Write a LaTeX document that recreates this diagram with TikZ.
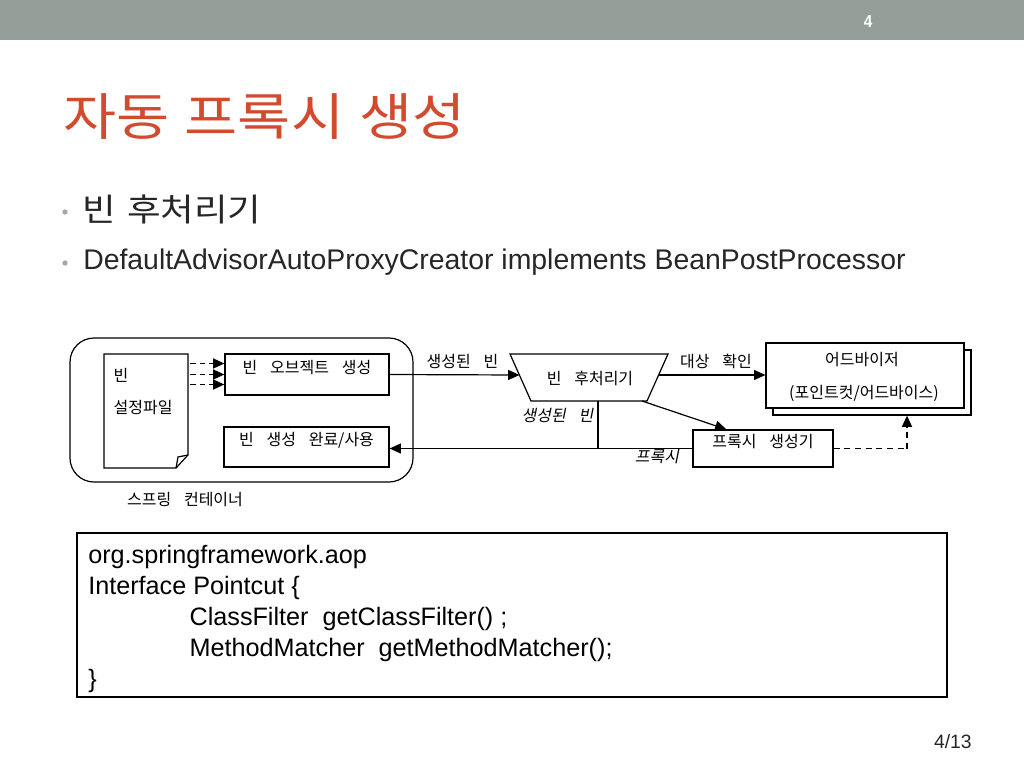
\documentclass[tikz,border=0pt]{standalone}
\usepackage{fontspec}
\setmainfont{Liberation Sans}
\newfontfamily\kr{Noto Sans CJK KR}
\newfontfamily\krwide[FakeStretch=1.14]{Noto Sans CJK KR}
\newfontfamily\krit[FakeSlant=0.2]{Noto Sans CJK KR}
\newfontfamily\slide[FakeStretch=0.88]{Liberation Sans}
\newcommand\ksp{\hspace{0.8em}}
\usepackage{tikz}
\usetikzlibrary{arrows,arrows.meta,calc,fit,positioning,shapes}
\definecolor{bargray}{HTML}{939F98}
\definecolor{titlered}{HTML}{D24B2F}
\definecolor{bodytext}{HTML}{262626}
\tikzset{
	box/.style={draw,line width=0.9pt,fill=white,inner sep=0pt,font=\kr\fontsize{12}{14}\selectfont},
	lbl/.style={inner sep=1pt,font=\kr\fontsize{12}{14}\selectfont},
	itlbl/.style={inner sep=1pt,font=\krit\fontsize{12}{14}\selectfont},
	conn/.style={line width=0.9pt,-{Triangle[length=8.5pt,width=7.5pt]}},
	bul/.style={circle,fill=gray!70,inner sep=0pt,minimum size=4pt}
}
\begin{document}
\begin{tikzpicture}[x=0.75pt,y=-0.75pt]
	\useasboundingbox (0,0) rectangle (1024,768);
	\fill[bargray] (0,0) rectangle (1024,40);
	\node[text=white,font=\slide\bfseries\fontsize{13}{15}\selectfont] (pnum) at (868,22) {4};
	\node[anchor=west,inner sep=0pt,text=titlered,font=\krwide\fontsize{38}{44}\selectfont] (title) at (63,117) {자동\hspace{0.3em}프록시\hspace{0.3em}생성};

	\node[bul] (b1) at (65,212) {};
	\node[anchor=west,inner sep=0pt,text=bodytext,font=\krwide\fontsize{24}{28}\selectfont] (item1) at (82,209) {빈\hspace{0.35em}후처리기};
	\node[bul] (b2) at (65,263) {};
	\node[anchor=west,inner sep=0pt,text=bodytext,font=\fontsize{21.3}{25}\selectfont] (item2) at (83,262) {DefaultAdvisorAutoProxyCreator implements BeanPostProcessor};

	\node[draw,line width=0.9pt,rounded corners=18pt,inner sep=0pt,fit={(70,338) (413,482)}] (spring) {};
	\node[lbl] (springlbl) at (185,500) {스프링\ksp 컨테이너};

	\draw[line width=0.9pt] (104,354) -- (188,354) -- (188,455) -- (176,468) -- (104,468) -- cycle;
	\draw[line width=0.9pt] (176,468) -- (178,457) -- (188,455);
	\node[inner sep=0pt,fit={(104,354) (188,468)}] (doc) {};
	\node[lbl,anchor=west] (doc1) at (112,375) {빈};
	\node[lbl,anchor=west] (doc2) at (112,407) {설정파일};

	\node[box,fit={(225,354) (389,395)}] (obj) {빈\ksp 오브젝트\ksp 생성};
	\node[box,fit={(224,427) (389,467)}] (done) {빈\ksp 생성\ksp 완료/사용};
	\foreach \dy in {-11,0,10}
		\draw[conn,line width=1.2pt,dash pattern=on 4pt off 3pt] ($(obj.west)+(-34,\dy)$) -- ($(obj.west)+(0,\dy)$);

	\draw[line width=0.9pt] (510,354) -- (668,354) -- (647,401) -- (531,401) -- cycle;
	\node[inner sep=0pt,font=\kr\fontsize{12}{14}\selectfont] (pp) at (590,378) {빈\ksp 후처리기};
	\coordinate (ppw) at (519.5,375);
	\coordinate (ppe) at (658.5,375);
	\coordinate (ppb) at (598,401);
	\coordinate (ppr) at (642,401);

	\node[box,fit={(773,350) (971,415)}] (advs) {};
	\node[box,fit={(766,343) (964,408)}] (adv) {};
	\node[lbl] (adv1) at (862,360) {어드바이저};
	\node[lbl] (adv2) at (864,393) {(포인트컷/어드바이스)};

	\node[box,fit={(693,430) (833,467)}] (proxy) {프록시\ksp 생성기};

	\draw[conn] (obj.east) -- (ppw) node[lbl,midway,above=3pt,xshift=6pt] (made) {생성된\ksp 빈};
	\draw[conn] (ppe) -- (ppe -| adv.west) node[lbl,midway,above=3pt,xshift=3pt] (check) {대상\ksp 확인};
	\draw[conn] (ppr) -- ($(proxy.north west)+(34,0)$);
	\draw[conn] (proxy.west) -- (proxy.west -| done.east);
	\draw[line width=0.9pt] (ppb) -- (ppb |- proxy.west);
	\node[itlbl,anchor=east] (madeit) at (595,415) {생성된\ksp 빈};
	\node[itlbl] (proxyit) at (657,457) {프록시};
	\coordinate (bend) at (907,448.5);
	\draw[line width=1.3pt,dash pattern=on 4.5pt off 3.5pt] (proxy.east) -- (bend);
	\draw[conn,line width=1.3pt,dash pattern=on 4.5pt off 3.5pt] (bend) -- (bend |- advs.south);

	\node[draw,line width=1.5pt,inner sep=0pt,fit={(77,533) (947,697)}] (code) {};
	\node[anchor=north west,align=left,inner sep=0pt,font=\fontsize{18.9}{23.3}\selectfont] (codetxt) at (88,545) {org.springframework.aop\\Interface Pointcut \{\\\hspace*{76pt}ClassFilter\ \ getClassFilter() ;\\\hspace*{76pt}MethodMatcher\ \ getMethodMatcher();\\\}};

	\node[anchor=east,inner sep=0pt,text=bodytext,font=\fontsize{14.5}{16}\selectfont] (pages) at (972,742) {4/13};
\end{tikzpicture}
\end{document}
